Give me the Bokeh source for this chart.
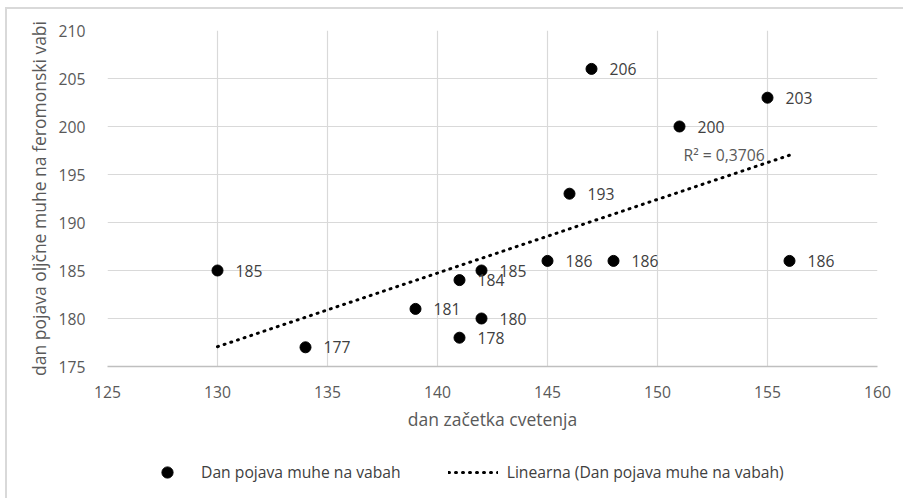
import numpy as np
from bokeh.plotting import figure
from bokeh.layouts import column
from bokeh.models import Range1d, FixedTicker, Legend, LegendItem, Label, ColumnDataSource
from bokeh.embed import file_html
from bokeh.resources import INLINE
from bokeh.core.properties import value

# ---- data ----
bloom_day = [130, 134, 139, 141, 141, 142, 142, 145, 146, 147, 148, 151, 155, 156]
fly_day = [185, 177, 181, 184, 178, 185, 180, 186, 193, 206, 186, 200, 203, 186]
x_ticks = [125, 130, 135, 140, 145, 150, 155, 160]
y_ticks = [175, 180, 185, 190, 195, 200, 205, 210]
series_name = "Dan pojava muhe na vabah"
trend_name = "Linearna (Dan pojava muhe na vabah)"
r2_text = "R² = 0,3706"
x_title = "dan začetka cvetenja"
y_title = "dan pojava oljčne muhe na feromonski vabi"

FONT = "Open Sans"
FS = "15.7px"
FS_TITLE = "17.5px"

src = ColumnDataSource(dict(x=bloom_day, y=fly_day, lbl=[str(v) for v in fly_day]))

# linear trendline (least squares) over the data's x span
slope, intercept = np.polyfit(bloom_day, fly_day, 1)
tx = [min(bloom_day), max(bloom_day)]
ty = [slope * v + intercept for v in tx]
trend_src = ColumnDataSource(dict(x=tx, y=ty))

SCATTER = dict(marker="circle", size=11, color="black")
TREND = dict(line_color="black", line_width=3, line_dash="1 6", line_cap="round")

# ---- main chart ----
p = figure(width=896, height=430, output_backend="svg", toolbar_location=None,
           x_range=Range1d(125, 160), y_range=Range1d(175, 210),
           min_border_left=100, min_border_right=26, min_border_top=21,
           min_border_bottom=73)
p.outline_line_color = None
p.background_fill_color = "white"
p.border_fill_color = "white"

for ax, ticks in ((p.xaxis, x_ticks), (p.yaxis, y_ticks)):
    ax.ticker = FixedTicker(ticks=ticks)
    ax.major_tick_line_color = None
    ax.minor_tick_line_color = None
    ax.major_label_text_font = FONT
    ax.major_label_text_font_size = FS
    ax.major_label_text_color = "#595959"
    ax.axis_label_text_font = FONT
    ax.axis_label_text_font_size = FS_TITLE
    ax.axis_label_text_color = "#595959"
    ax.axis_label_text_font_style = "normal"

p.xaxis.axis_label = x_title
p.yaxis.axis_label = y_title
p.xaxis.axis_line_color = "#bfbfbf"
p.xaxis.axis_line_width = 1.5
p.yaxis.axis_line_color = None
p.xaxis.major_label_standoff = 13
p.xaxis.axis_label_standoff = 6
p.yaxis.major_label_standoff = 16
p.yaxis.axis_label_standoff = 5

p.xgrid.ticker = FixedTicker(ticks=x_ticks)
p.ygrid.ticker = FixedTicker(ticks=y_ticks)
p.grid.grid_line_color = "#d9d9d9"
p.grid.grid_line_width = 1.2

p.line("x", "y", source=trend_src, **TREND)
p.scatter("x", "y", source=src, **SCATTER)
p.text("x", "y", text="lbl", source=src, x_offset=18, text_baseline="middle",
       text_align="left", text_font=value(FONT), text_font_size=FS, text_color="#404040")

p.add_layout(Label(x=151.18, y=196.98, text=r2_text, text_font=FONT, text_font_size=FS,
                   text_color="#595959", text_baseline="middle", text_align="left"))

# ---- legend strip below the chart (same series; its view range shows no marks) ----
lg = figure(width=896, height=59, output_backend="svg", toolbar_location=None,
            x_range=Range1d(0, 1), y_range=Range1d(0, 1),
            min_border=0, x_axis_type=None, y_axis_type=None)
lg.outline_line_color = None
lg.grid.visible = False
lg_pts = lg.scatter("x", "y", source=src, **SCATTER)
lg_trend = lg.line("x", "y", source=trend_src, **TREND)

legend = Legend(items=[LegendItem(label=series_name, renderers=[lg_pts]),
                       LegendItem(label=trend_name, renderers=[lg_trend])],
                orientation="horizontal", location=(35, 12),
                glyph_width=50, glyph_height=28, label_height=28, label_standoff=9,
                spacing=47, padding=0, margin=0,
                label_text_font=FONT, label_text_font_size=FS, label_text_color="#404040",
                border_line_alpha=0, background_fill_alpha=0)
lg.add_layout(legend, "center")

layout = column(p, lg, spacing=0, margin=(7, 0, 0, 5),
                styles={"border-top": "2px solid #d9d9d9", "border-left": "2px solid #d9d9d9"})

open("out.html", "w").write(file_html(layout, INLINE))
